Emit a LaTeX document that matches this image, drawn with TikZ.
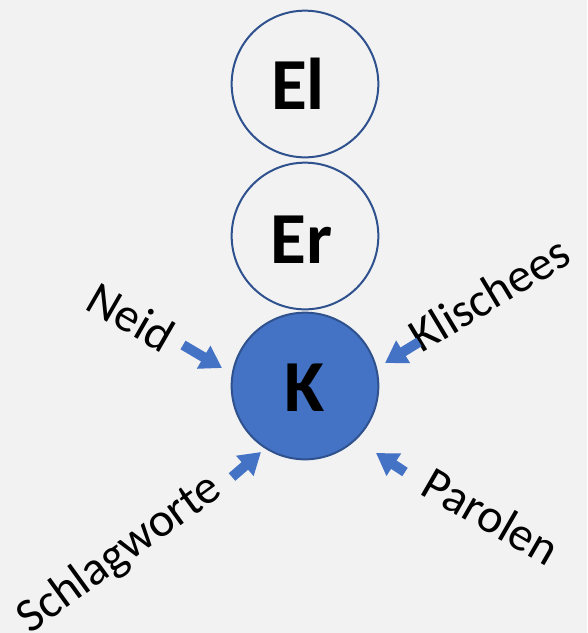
\documentclass[tikz,border=0pt]{standalone}
\usepackage{fontspec}
\setmainfont{Carlito}
\usetikzlibrary{arrows.meta}
\definecolor{bg}{HTML}{F2F2F2}
\definecolor{kfill}{HTML}{4472C4}
\definecolor{kline}{HTML}{2F528F}
\tikzset{
  circ/.style={circle, draw=kline, line width=1.5pt, minimum size=110pt, inner sep=0pt},
  ctext/.style={font=\fontsize{55}{60}\selectfont\bfseries, anchor=base, inner sep=0pt},
  lab/.style={font=\fontsize{36}{40}\selectfont, anchor=base west, inner sep=0pt},
  blockarrow/.style={draw=kfill, line width=7.5pt, -{Triangle[width=19pt,length=16pt]}},
}
\begin{document}
\begin{tikzpicture}[x=0.75pt,y=-0.75pt]
\fill[bg] (0,0) rectangle (587,633);
\useasboundingbox (0,0) rectangle (587,633);
\node[circ] (El) at (305,84) {};
\node[circ] (Er) at (305,236) {};
\node[circ, fill=kfill] (K) at (305,386) {};
\node[ctext] (tEl) at (298,109) {El};
\node[ctext] (tEr) at (301.5,263) {Er};
\node[ctext] (tK) at (305,411) {K};
\node[lab, rotate=-30] (neid) at (83.5,308) {Neid};
\node[lab, rotate=31] (klis) at (421,354) {Klischees};
\node[lab, rotate=36] (schl) at (30,635) {Schlagworte};
\node[lab, rotate=-30] (paro) at (418.5,493) {Parolen};
\coordinate (a1) at (183,345); \coordinate (b1) at (222,368);
\coordinate (a2) at (419,342); \coordinate (b2) at (385,363);
\coordinate (a3) at (232,477); \coordinate (b3) at (261,452);
\coordinate (a4) at (405,472); \coordinate (b4) at (376,453);
\draw[blockarrow] (a1) -- (b1);
\draw[blockarrow] (a2) -- (b2);
\draw[blockarrow] (a3) -- (b3);
\draw[blockarrow] (a4) -- (b4);
\end{tikzpicture}
\end{document}
